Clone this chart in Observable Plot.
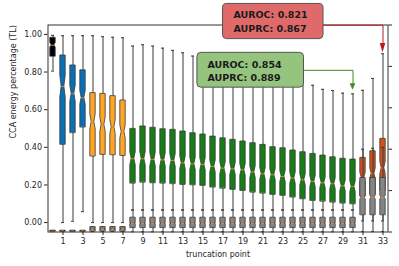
<!DOCTYPE html>
<html><head><meta charset="utf-8">
<script src="https://cdn.jsdelivr.net/npm/d3@7"></script>
<script src="https://cdn.jsdelivr.net/npm/@observablehq/plot@0.6"></script>
<style>
html,body{margin:0;padding:0;background:#fff;}
</style>
</head><body><div id="chart"></div>
<script>
// ---------- data ----------
const truncationPoints = [0,1,2,3,4,5,6,7,8,9,10,11,12,13,14,15,16,17,18,19,20,21,22,23,24,25,26,27,28,29,30,31,32,33];
const BLK = "#000000", BLU = "#0b6fb6", ORG = "#ffa523", GRN = "#177d17", RED = "#d4521b";
const boxColors = [BLK,BLU,BLU,BLU,ORG,ORG,ORG,ORG,
  GRN,GRN,GRN,GRN,GRN,GRN,GRN,GRN,GRN,GRN,GRN,GRN,GRN,GRN,GRN,GRN,GRN,GRN,GRN,GRN,GRN,GRN,GRN,
  RED,RED,RED];
const whiskerLow = [0.805,0.000,0.007,0.058,0.000,0.000,0.000,0.000,
  0.067,0.067,0.067,0.067,0.067,0.067,0.067,0.067,0.067,0.067,0.067,0.067,0.067,0.067,0.067,0.067,0.067,0.067,0.067,0.067,0.067,0.067,0.067,
  -0.048,-0.048,-0.048];
const quartile1 = [0.883,0.415,0.477,0.507,0.353,0.362,0.360,0.356,
  0.209,0.214,0.211,0.209,0.206,0.202,0.200,0.197,0.188,0.182,0.176,0.170,0.161,0.156,0.149,0.144,0.135,0.126,0.117,0.113,0.108,0.103,0.099,
  0.140,0.150,0.170];
const median = [0.942,0.723,0.685,0.663,0.535,0.520,0.507,0.482,
  0.339,0.339,0.335,0.333,0.330,0.317,0.312,0.309,0.298,0.289,0.285,0.280,0.268,0.259,0.254,0.245,0.236,0.227,0.218,0.211,0.206,0.195,0.191,
  0.240,0.260,0.290];
const quartile3 = [0.982,0.888,0.835,0.809,0.688,0.684,0.672,0.649,
  0.498,0.511,0.504,0.496,0.493,0.484,0.475,0.468,0.457,0.448,0.440,0.431,0.422,0.413,0.401,0.395,0.383,0.374,0.365,0.356,0.347,0.339,0.335,
  0.344,0.379,0.445];
const whiskerHigh = [0.995,0.993,0.993,0.993,0.993,0.988,0.985,0.982,
  0.938,0.945,0.938,0.927,0.915,0.902,0.885,0.875,0.862,0.850,0.838,0.826,0.814,0.800,0.786,0.772,0.758,0.745,0.730,0.708,0.702,0.688,0.684,
  0.703,0.766,0.897];

// second (grey) distribution
const GRY = "#858585";
const grayColors = [BLK,GRY,GRY,GRY,GRY,GRY,GRY,GRY,
  GRY,GRY,GRY,GRY,GRY,GRY,GRY,GRY,GRY,GRY,GRY,GRY,GRY,GRY,GRY,GRY,GRY,GRY,GRY,GRY,GRY,GRY,GRY,
  GRY,GRY,GRY];
const grayLow = [-0.048,-0.048,-0.048,-0.048,-0.048,-0.048,-0.048,-0.048,
  -0.049,-0.049,-0.049,-0.049,-0.049,-0.049,-0.049,-0.049,-0.049,-0.049,-0.049,-0.049,-0.049,-0.049,-0.049,-0.049,-0.049,-0.049,-0.049,-0.049,-0.049,-0.049,-0.049,
  0.009,0.009,0.009];
const grayQ1 = [-0.047,-0.047,-0.047,-0.047,-0.046,-0.046,-0.046,-0.046,
  -0.027,-0.027,-0.027,-0.027,-0.027,-0.027,-0.027,-0.027,-0.027,-0.027,-0.027,-0.027,-0.027,-0.027,-0.027,-0.027,-0.027,-0.027,-0.027,-0.027,-0.027,-0.027,-0.027,
  0.041,0.041,0.041];
const grayMedian = [-0.045,-0.045,-0.045,-0.045,-0.035,-0.035,-0.035,-0.035,
  -0.005,-0.005,-0.005,-0.005,-0.005,-0.005,-0.005,-0.005,-0.005,-0.005,-0.005,-0.005,-0.005,-0.005,-0.005,-0.005,-0.005,-0.005,-0.005,-0.005,-0.005,-0.005,-0.005,
  0.133,0.133,0.133];
const grayQ3 = [-0.043,-0.043,-0.043,-0.043,-0.024,-0.024,-0.024,-0.024,
  0.026,0.026,0.026,0.026,0.026,0.026,0.026,0.026,0.026,0.026,0.026,0.026,0.026,0.026,0.026,0.026,0.026,0.026,0.026,0.026,0.026,0.026,0.026,
  0.237,0.237,0.237];
const grayHigh = [-0.042,-0.042,-0.042,-0.042,-0.022,-0.022,-0.022,-0.022,
  0.067,0.067,0.067,0.067,0.067,0.067,0.067,0.067,0.067,0.067,0.067,0.067,0.067,0.067,0.067,0.067,0.067,0.067,0.067,0.067,0.067,0.067,0.067,
  0.390,0.395,0.400];

const xTicks = [1,3,5,7,9,11,13,15,17,19,21,23,25,27,29,31,33];
const yTicks = [0,0.2,0.4,0.6,0.8,1.0];
const rightTicks = [-0.05,0.17,0.39,0.61,0.83,1.05];

const annotTargets = [33, 30];
const annotLine1 = ["AUROC: 0.821", "AUROC: 0.854"];
const annotLine2 = ["AUPRC: 0.867", "AUPRC: 0.889"];
const annotFill = ["#e06a6a", "#95c47e"];
const annotArrow = ["#b81c1c", "#3f8c25"];

// ---------- layout constants ----------
const HALF = 0.27, WAIST = 0.135, CAP = 0.15;

function makeRows(lo, q1, med, q3, hi, colors, tag, notch) {
  return truncationPoints.map((t, i) => ({x: t, lo: lo[i], q1: q1[i], med: med[i], q3: q3[i], hi: hi[i], color: colors[i], key: tag + t, notch}));
}
function outline(r) {
  const n = r.notch * (r.q3 - r.q1);
  const b = {x: r.x, key: r.key, color: r.color};
  return [
    {...b, y: r.q1, w: HALF},
    {...b, y: r.med - n, w: HALF},
    {...b, y: r.med, w: WAIST},
    {...b, y: r.med + n, w: HALF},
    {...b, y: r.q3, w: HALF}
  ];
}
function boxMarks(rows) {
  const ws = {stroke: "#3a3a3a", strokeWidth: 1};
  return [
    Plot.ruleX(rows, {x: "x", y1: "lo", y2: "q1", ...ws}),
    Plot.ruleX(rows, {x: "x", y1: "q3", y2: "hi", ...ws}),
    Plot.ruleY(rows, {y: "lo", x1: d => d.x - CAP, x2: d => d.x + CAP, ...ws}),
    Plot.ruleY(rows, {y: "hi", x1: d => d.x - CAP, x2: d => d.x + CAP, ...ws}),
    Plot.areaX(rows.flatMap(outline), {y: "y", x1: d => d.x - d.w, x2: d => d.x + d.w, z: "key", fill: "color", stroke: "#3a3a3a", strokeWidth: 0.8}),
    Plot.ruleY(rows, {y: "med", x1: d => d.x - WAIST, x2: d => d.x + WAIST, stroke: "#ff7f0e", strokeWidth: 1})
  ];
}

const mainRows = makeRows(whiskerLow, quartile1, median, quartile3, whiskerHigh, boxColors, "m", 0.12);
const grayRows = makeRows(grayLow, grayQ1, grayMedian, grayQ3, grayHigh, grayColors, "g", 0.05);

// annotation geometry (in data units)
const boxes = [
  {x1: 17.0, x2: 27.05, y1: 0.975, y2: 1.162, tx: 18.04, ty1: 1.101, ty2: 1.030, ly: 1.049, base: 0.952, tip: 0.903},
  {x1: 14.44, x2: 25.1, y1: 0.717, y2: 0.902, tx: 15.44, ty1: 0.840, ty2: 0.768, ly: 0.809, base: 0.738, tip: 0.703}
];
const annotMarks = boxes.flatMap((b, k) => {
  const t = truncationPoints[annotTargets[k]];
  return [
    Plot.line([{x: b.x2, y: b.ly}, {x: t, y: b.ly}, {x: t, y: b.base}], {x: "x", y: "y", stroke: annotArrow[k], strokeWidth: 1}),
    Plot.areaX([{y: b.base, a: t - 0.28, c: t + 0.28}, {y: b.tip, a: t, c: t}], {y: "y", x1: "a", x2: "c", fill: annotArrow[k]}),
    Plot.rect([b], {x1: "x1", x2: "x2", y1: "y1", y2: "y2", fill: annotFill[k], stroke: "#555", strokeWidth: 1, rx: 4}),
    Plot.text([annotLine1[k]], {x: b.tx, y: b.ty1, text: d => d, textAnchor: "start", fontWeight: "bold", fontSize: 9.5, fill: "#1a1a1a"}),
    Plot.text([annotLine2[k]], {x: b.tx, y: b.ty2, text: d => d, textAnchor: "start", fontWeight: "bold", fontSize: 9.5, fill: "#1a1a1a"})
  ];
});

const chart = Plot.plot({
  width: 399,
  height: 266,
  marginLeft: 47.5,
  marginRight: 11.5,
  marginTop: 24.5,
  marginBottom: 34.5,
  x: {domain: [-0.5, 33.5]},
  y: {domain: [-0.05, 1.05]},
  color: {type: "identity"},
  style: {fontFamily: "DejaVu Sans", fontSize: "8px", color: "#262626", background: "#fff"},
  marks: [
    ...boxMarks(mainRows),
    ...boxMarks(grayRows),
    Plot.frame({stroke: "#333"}),
    Plot.axisY({ticks: yTicks, tickFormat: d3.format(".2f"), tickSize: 3.5, tickPadding: 2.5, label: null}),
    Plot.axisY({anchor: "right", ticks: rightTicks, tickFormat: () => "", tickSize: 3.5, label: null}),
    Plot.axisX({ticks: xTicks, tickSize: 3.5, tickPadding: 2.5, label: "truncation point", labelAnchor: "center", labelArrow: "none", labelOffset: 25}),
    Plot.text(["CCA energy percentage (TL)"], {frameAnchor: "left", dx: -34.5, dy: 10, rotate: -90, text: d => d, fontSize: 8, fill: "#262626"}),
    ...annotMarks
  ]
});
document.getElementById("chart").appendChild(chart);
</script>
</body></html>
